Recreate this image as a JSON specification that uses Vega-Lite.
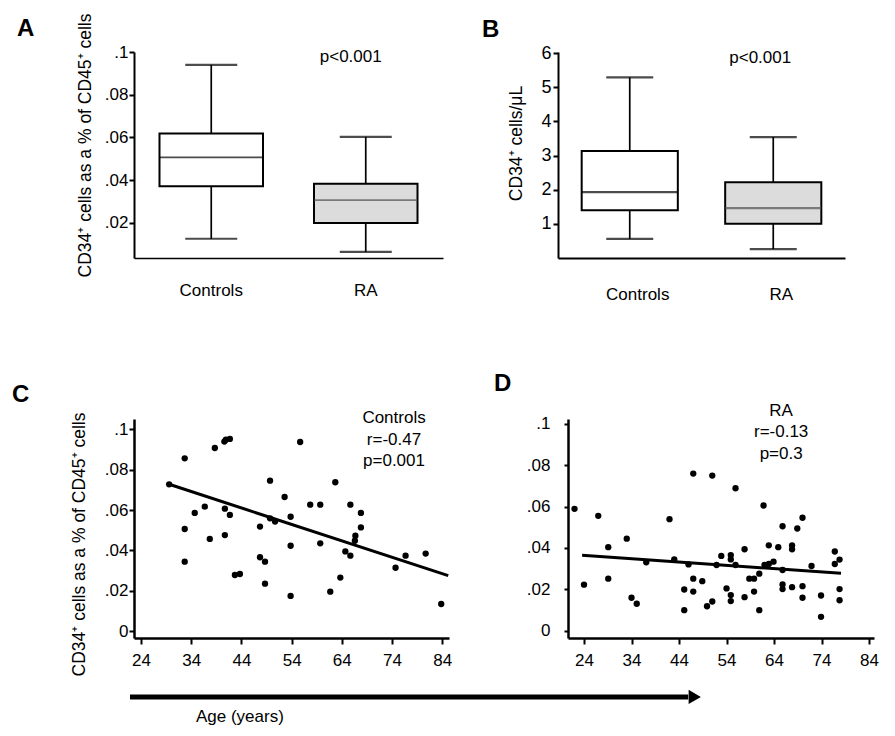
{
  "$schema": "https://vega.github.io/schema/vega-lite/v6.json",
  "background": "white",
  "padding": {"left": 12, "top": 13, "right": 10, "bottom": 5},
  "spacing": 69,
  "config": {
    "font": "Liberation Sans",
    "view": {"stroke": null},
    "axis": {"labelFont": "Liberation Sans", "titleFont": "Liberation Sans", "labelFontSize": 17, "titleFontSize": 17, "titleFontWeight": "normal", "labelColor": "#000", "titleColor": "#000", "domainColor": "#000", "tickColor": "#000", "grid": false},
    "title": {"font": "Liberation Sans", "fontSize": 24, "fontWeight": "bold", "anchor": "start", "frame": "group", "color": "#000", "baseline": "alphabetic"},
    "text": {"font": "Liberation Sans", "fontSize": 17, "color": "#000"}
  },
  "vconcat": [
    {
      "hconcat": [
        {
          "width": 309, "height": 206,
          "title": {"text": "A", "dx": -117, "dy": 33, "offset": 5},
          "data": {"values": [
            {"group": "Controls", "lower": 0.0126, "q1": 0.0372, "median": 0.0507, "q3": 0.0619, "upper": 0.094},
            {"group": "RA", "lower": 0.0065, "q1": 0.02, "median": 0.0307, "q3": 0.0383, "upper": 0.0603}
          ]},
          "encoding": {"x": {"field": "group", "type": "nominal", "scale": {"paddingInner": 0.33, "paddingOuter": 0.165},
            "axis": {"title": null, "ticks": false, "tickSize": 0, "labelPadding": 24, "labelAngle": 0, "domainWidth": 1.5}}},
          "layer": [
            {"mark": {"type": "rule", "color": "#000", "strokeWidth": 1.7},
             "encoding": {"y": {"field": "lower", "type": "quantitative", "scale": {"domain": [0.0036, 0.1], "nice": false, "zero": false},
               "axis": {"values": [0.02, 0.04, 0.06, 0.08, 0.1], "labelExpr": "replace(format(datum.value, '.2~f'), '0.', '.')", "tickSize": 5, "tickWidth": 2, "domainWidth": 2, "labelPadding": 1, "title": "CD34⁺ cells as a % of CD45⁺ cells", "titleFontSize": 17.5, "titlePadding": 10, "titleY": 93}},
               "y2": {"field": "upper"}}},
            {"mark": {"type": "bar", "stroke": "#000", "strokeWidth": 2},
             "encoding": {"y": {"field": "q1", "type": "quantitative"}, "y2": {"field": "q3"},
               "fill": {"field": "group", "type": "nominal", "scale": {"range": ["#ffffff", "#dcdcdc"]}, "legend": null}}},
            {"mark": {"type": "tick", "thickness": 1.7, "size": 103},
             "encoding": {"y": {"field": "median", "type": "quantitative"},
               "color": {"field": "group", "type": "nominal", "scale": {"range": ["#000000", "#505050"]}, "legend": null}}},
            {"mark": {"type": "tick", "thickness": 2.2, "size": 52, "color": "#000"},
             "encoding": {"y": {"field": "lower", "type": "quantitative"}}},
            {"mark": {"type": "tick", "thickness": 2.2, "size": 52, "color": "#000"},
             "encoding": {"y": {"field": "upper", "type": "quantitative"}}},
            {"data": {"values": [{"group": "RA", "label": "p<0.001", "value": 0.1014}]},
             "mark": {"type": "text", "baseline": "top", "align": "center", "dx": -15},
             "encoding": {"y": {"field": "value", "type": "quantitative"}, "text": {"field": "label"}}}
          ]
        },
        {
          "width": 287, "height": 206,
          "title": {"text": "B", "dx": -76, "dy": 8, "offset": 10},
          "data": {"values": [
            {"group": "Controls", "lower": 0.56, "q1": 1.40, "median": 1.93, "q3": 3.13, "upper": 5.29},
            {"group": "RA", "lower": 0.26, "q1": 1.0, "median": 1.46, "q3": 2.22, "upper": 3.54}
          ]},
          "encoding": {"x": {"field": "group", "type": "nominal", "scale": {"paddingInner": 0.33, "paddingOuter": 0.165},
            "axis": {"title": null, "ticks": false, "tickSize": 0, "labelPadding": 28, "labelOffset": 8, "labelAngle": 0, "domainWidth": 2}}},
          "layer": [
            {"mark": {"type": "rule", "color": "#000", "strokeWidth": 1.7},
             "encoding": {"y": {"field": "lower", "type": "quantitative", "scale": {"domain": [0, 6.03], "nice": false, "zero": false},
               "axis": {"values": [1, 2, 3, 4, 5, 6], "labelFontSize": 18, "tickSize": 5, "tickWidth": 2, "domainWidth": 2, "labelPadding": 2, "title": "CD34⁺ cells/μL", "titleFontSize": 17.5, "titlePadding": 15, "titleY": 91}},
               "y2": {"field": "upper"}}},
            {"mark": {"type": "bar", "stroke": "#000", "strokeWidth": 2},
             "encoding": {"y": {"field": "q1", "type": "quantitative"}, "y2": {"field": "q3"},
               "fill": {"field": "group", "type": "nominal", "scale": {"range": ["#ffffff", "#dcdcdc"]}, "legend": null}}},
            {"mark": {"type": "tick", "thickness": 2.2, "size": 96},
             "encoding": {"y": {"field": "median", "type": "quantitative"},
               "color": {"field": "group", "type": "nominal", "scale": {"range": ["#000000", "#505050"]}, "legend": null}}},
            {"mark": {"type": "tick", "thickness": 2.2, "size": 47, "color": "#000"},
             "encoding": {"y": {"field": "lower", "type": "quantitative"}}},
            {"mark": {"type": "tick", "thickness": 2.2, "size": 47, "color": "#000"},
             "encoding": {"y": {"field": "upper", "type": "quantitative"}}},
            {"data": {"values": [{"group": "RA", "label": "p<0.001", "value": 6.08}]},
             "mark": {"type": "text", "baseline": "top", "align": "center", "dx": -13},
             "encoding": {"y": {"field": "value", "type": "quantitative"}, "text": {"field": "label"}}}
          ]
        }
      ],
      "spacing": 115,
      "bounds": "flush"
    },
    {
      "hconcat": [
        {
          "width": 315, "height": 219,
          "title": {"text": "C", "dx": -122, "dy": 9, "offset": 11},
          "layer": [
            {"data": {"values": [
              {"age": 29.6, "value": 0.0728}, {"age": 32.7, "value": 0.0857}, {"age": 32.7, "value": 0.0506}, {"age": 32.7, "value": 0.0344},
              {"age": 34.7, "value": 0.0586}, {"age": 36.7, "value": 0.0617}, {"age": 37.7, "value": 0.0457}, {"age": 38.7, "value": 0.0908},
              {"age": 40.6, "value": 0.094}, {"age": 40.9, "value": 0.0949}, {"age": 41.7, "value": 0.0953}, {"age": 40.7, "value": 0.0607},
              {"age": 40.7, "value": 0.0476}, {"age": 41.7, "value": 0.0576}, {"age": 42.7, "value": 0.0278}, {"age": 43.7, "value": 0.0283},
              {"age": 47.7, "value": 0.0518}, {"age": 47.7, "value": 0.0366}, {"age": 48.7, "value": 0.0344}, {"age": 48.7, "value": 0.0235},
              {"age": 49.7, "value": 0.0746}, {"age": 49.7, "value": 0.0559}, {"age": 50.7, "value": 0.0543}, {"age": 52.6, "value": 0.0665},
              {"age": 53.8, "value": 0.0567}, {"age": 53.8, "value": 0.0423}, {"age": 53.8, "value": 0.0174}, {"age": 55.7, "value": 0.0938},
              {"age": 57.7, "value": 0.0627}, {"age": 59.7, "value": 0.0627}, {"age": 59.7, "value": 0.0435}, {"age": 61.7, "value": 0.0195},
              {"age": 62.7, "value": 0.0738}, {"age": 63.7, "value": 0.0265}, {"age": 64.7, "value": 0.0395}, {"age": 65.7, "value": 0.0627},
              {"age": 65.7, "value": 0.0374}, {"age": 66.7, "value": 0.0473}, {"age": 66.6, "value": 0.0448}, {"age": 67.8, "value": 0.0586},
              {"age": 67.8, "value": 0.0514}, {"age": 74.7, "value": 0.0314}, {"age": 76.7, "value": 0.0374}, {"age": 80.7, "value": 0.0384},
              {"age": 83.8, "value": 0.0134}
             ]},
             "mark": {"type": "circle", "size": 40, "color": "#000", "opacity": 1},
             "encoding": {
               "x": {"field": "age", "type": "quantitative", "scale": {"domain": [22.6, 85.35], "nice": false, "zero": false},
                 "axis": {"title": null, "values": [24, 34, 44, 54, 64, 74, 84], "tickSize": 6, "tickWidth": 2, "domainWidth": 2.5, "labelPadding": 8}},
               "y": {"field": "value", "type": "quantitative", "scale": {"domain": [-0.00347, 0.1052], "nice": false, "zero": false},
                 "axis": {"values": [0, 0.02, 0.04, 0.06, 0.08, 0.1], "labelExpr": "replace(format(datum.value, '.2~f'), '0.', '.')", "tickSize": 5, "tickWidth": 2, "domainWidth": 2.5, "labelPadding": 1, "title": "CD34⁺ cells as a % of CD45⁺ cells", "titleFontSize": 17.5, "titlePadding": 16, "titleY": 125}}
             }},
            {"data": {"values": [{"age": 29.6, "value": 0.0728}, {"age": 85.2, "value": 0.0275}]},
             "mark": {"type": "line", "color": "#000", "strokeWidth": 3},
             "encoding": {"x": {"field": "age", "type": "quantitative"}, "y": {"field": "value", "type": "quantitative"}}},
            {"data": {"values": [{"age": 74.4, "value": 0.1096, "label": "Controls\nr=-0.47\np=0.001"}]},
             "mark": {"type": "text", "align": "center", "baseline": "top", "lineBreak": "\n", "lineHeight": 21.5},
             "encoding": {"x": {"field": "age", "type": "quantitative"}, "y": {"field": "value", "type": "quantitative"}, "text": {"field": "label"}}},
            {"data": {"values": [{"start": 21.8, "end": 133.0, "level": -0.0327}]},
             "mark": {"type": "rule", "color": "#000", "strokeWidth": 5},
             "encoding": {"x": {"field": "start", "type": "quantitative"}, "x2": {"field": "end"}, "y": {"field": "level", "type": "quantitative"}}},
            {"data": {"values": [{"tip": 134.3, "level": -0.0327}]},
             "mark": {"type": "point", "shape": "triangle-right", "filled": true, "size": 200, "color": "#000", "opacity": 1},
             "encoding": {"x": {"field": "tip", "type": "quantitative"}, "y": {"field": "level", "type": "quantitative"}}},
            {"data": {"values": [{"pos": 43.7, "level": -0.0427, "label": "Age (years)"}]},
             "mark": {"type": "text", "align": "center", "baseline": "middle"},
             "encoding": {"x": {"field": "pos", "type": "quantitative"}, "y": {"field": "level", "type": "quantitative"}, "text": {"field": "label"}}}
          ]
        },
        {
          "width": 306, "height": 219,
          "title": {"text": "D", "dx": -74, "dy": 8, "offset": 14},
          "layer": [
            {"data": {"values": [
              {"age": 22.0, "value": 0.0589}, {"age": 24.0, "value": 0.0223}, {"age": 27.0, "value": 0.0555}, {"age": 29.1, "value": 0.0404},
              {"age": 29.1, "value": 0.0252}, {"age": 33.0, "value": 0.0445}, {"age": 34.0, "value": 0.016}, {"age": 35.1, "value": 0.0131},
              {"age": 37.1, "value": 0.0331}, {"age": 42.0, "value": 0.0539}, {"age": 43.0, "value": 0.0345}, {"age": 45.1, "value": 0.020},
              {"age": 45.1, "value": 0.010}, {"age": 46.0, "value": 0.0321}, {"age": 47.0, "value": 0.0759}, {"age": 47.0, "value": 0.0252},
              {"age": 47.0, "value": 0.019}, {"age": 48.9, "value": 0.024}, {"age": 49.9, "value": 0.0119}, {"age": 51.0, "value": 0.0749},
              {"age": 51.0, "value": 0.0142}, {"age": 51.9, "value": 0.0318}, {"age": 52.9, "value": 0.0362}, {"age": 54.0, "value": 0.0205},
              {"age": 54.9, "value": 0.0366}, {"age": 54.9, "value": 0.0345}, {"age": 54.9, "value": 0.0173}, {"age": 54.9, "value": 0.0144},
              {"age": 55.9, "value": 0.0688}, {"age": 55.9, "value": 0.0318}, {"age": 57.8, "value": 0.0394}, {"age": 57.8, "value": 0.0163},
              {"age": 58.8, "value": 0.0252}, {"age": 59.8, "value": 0.0252}, {"age": 59.8, "value": 0.019}, {"age": 60.9, "value": 0.0276},
              {"age": 60.9, "value": 0.010}, {"age": 61.8, "value": 0.0605}, {"age": 62.0, "value": 0.0318}, {"age": 62.9, "value": 0.0413},
              {"age": 62.9, "value": 0.0323}, {"age": 63.9, "value": 0.0334}, {"age": 64.9, "value": 0.0404}, {"age": 65.8, "value": 0.0505},
              {"age": 65.8, "value": 0.0294}, {"age": 65.8, "value": 0.0224}, {"age": 65.8, "value": 0.0202}, {"age": 67.8, "value": 0.0413},
              {"age": 67.8, "value": 0.0394}, {"age": 67.8, "value": 0.0211}, {"age": 68.9, "value": 0.0494}, {"age": 70.0, "value": 0.0546},
              {"age": 70.0, "value": 0.0216}, {"age": 70.0, "value": 0.016}, {"age": 71.9, "value": 0.0313}, {"age": 73.9, "value": 0.0171},
              {"age": 73.9, "value": 0.0068}, {"age": 76.8, "value": 0.0383}, {"age": 76.8, "value": 0.0323}, {"age": 77.8, "value": 0.0344},
              {"age": 77.8, "value": 0.0202}, {"age": 77.8, "value": 0.0148}
             ]},
             "mark": {"type": "circle", "size": 40, "color": "#000", "opacity": 1},
             "encoding": {
               "x": {"field": "age", "type": "quantitative", "scale": {"domain": [20.63, 85.05], "nice": false, "zero": false},
                 "axis": {"title": null, "values": [24, 34, 44, 54, 64, 74, 84], "tickSize": 6, "tickWidth": 2, "domainWidth": 2.5, "labelPadding": 8}},
               "y": {"field": "value", "type": "quantitative", "scale": {"domain": [-0.0034, 0.1022], "nice": false, "zero": false},
                 "axis": {"values": [0, 0.02, 0.04, 0.06, 0.08, 0.1], "labelExpr": "replace(format(datum.value, '.2~f'), '0.', '.')", "tickSize": 4, "tickWidth": 2, "domainWidth": 2.5, "labelPadding": 14, "title": null}}
             }},
            {"data": {"values": [{"age": 23.6, "value": 0.0365}, {"age": 78.1, "value": 0.0278}]},
             "mark": {"type": "line", "color": "#000", "strokeWidth": 3},
             "encoding": {"x": {"field": "age", "type": "quantitative"}, "y": {"field": "value", "type": "quantitative"}}},
            {"data": {"values": [{"age": 65.5, "value": 0.110, "label": "RA\nr=-0.13\np=0.3"}]},
             "mark": {"type": "text", "align": "center", "baseline": "top", "lineBreak": "\n", "lineHeight": 21.5},
             "encoding": {"x": {"field": "age", "type": "quantitative"}, "y": {"field": "value", "type": "quantitative"}, "text": {"field": "label"}}}
          ]
        }
      ],
      "spacing": 119,
      "bounds": "flush"
    }
  ]
}
